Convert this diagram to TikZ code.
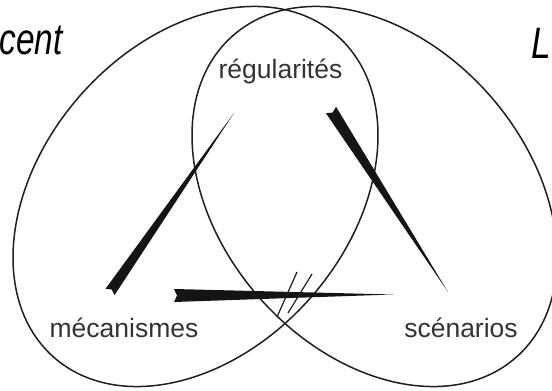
\documentclass[tikz,border=0pt]{standalone}
\usepackage{fontspec}
\setmainfont{Liberation Sans}
\usetikzlibrary{calc}
\newcommand\brushstroke[3]{%
  \fill[black!92] ($(#1)!#3!90:(#2)$) -- (#2) -- ($(#1)!#3!-90:(#2)$) -- ($(#1)!3pt!(#2)$) -- cycle;}
\begin{document}
\begin{tikzpicture}[x=1pt,y=1pt,
  ell/.style={line width=1.5pt, draw=black!88},
  lbl/.style={font=\fontsize{26.5}{26.5}\selectfont, text=black!80, inner sep=0pt},
  big/.style={font=\fontsize{44}{44}\selectfont\itshape, text=black, inner sep=0pt},
  hashmark/.style={line width=1.2pt, draw=black!88}]
\useasboundingbox (0,0) rectangle (552,391);
% ellipses
\draw[ell, rotate around={48.6:(195.5,194.5)}] (195.5,194.5) ellipse [x radius=214.3pt, y radius=153.3pt];
\draw[ell, rotate around={-48.6:(374.5,194.5)}] (374.5,194.5) ellipse [x radius=214.3pt, y radius=153.3pt];
% labels
\node[lbl, anchor=base] (reg) at (280.5,312) {régularités};
\node[lbl, anchor=base] (mec) at (124,53) {mécanismes};
\node[lbl, anchor=base] (sce) at (461,53) {scénarios};
\node[big, anchor=base east] (cent) at (63,336) {\scalebox{0.76}[1]{cent}};
\node[big, anchor=base east] (ell) at (551,332) {\scalebox{0.8}[1]{L}};
% brush strokes
\coordinate (s1) at (110,99);  \coordinate (t1) at (234,278);
\coordinate (s2) at (331,281); \coordinate (t2) at (448,99);
\coordinate (s3) at (174,95.5); \coordinate (t3) at (393,96.5);
\brushstroke{s1}{t1}{5.5pt}
\brushstroke{s2}{t2}{6pt}
\brushstroke{s3}{t3}{6.5pt}
% hash marks
\coordinate (h1a) at (297,119); \coordinate (h1b) at (277,74);
\coordinate (h2a) at (312,117); \coordinate (h2b) at (288,78);
\draw[hashmark] (h1a) -- (h1b);
\draw[hashmark] (h2a) -- (h2b);
\end{tikzpicture}
\end{document}
